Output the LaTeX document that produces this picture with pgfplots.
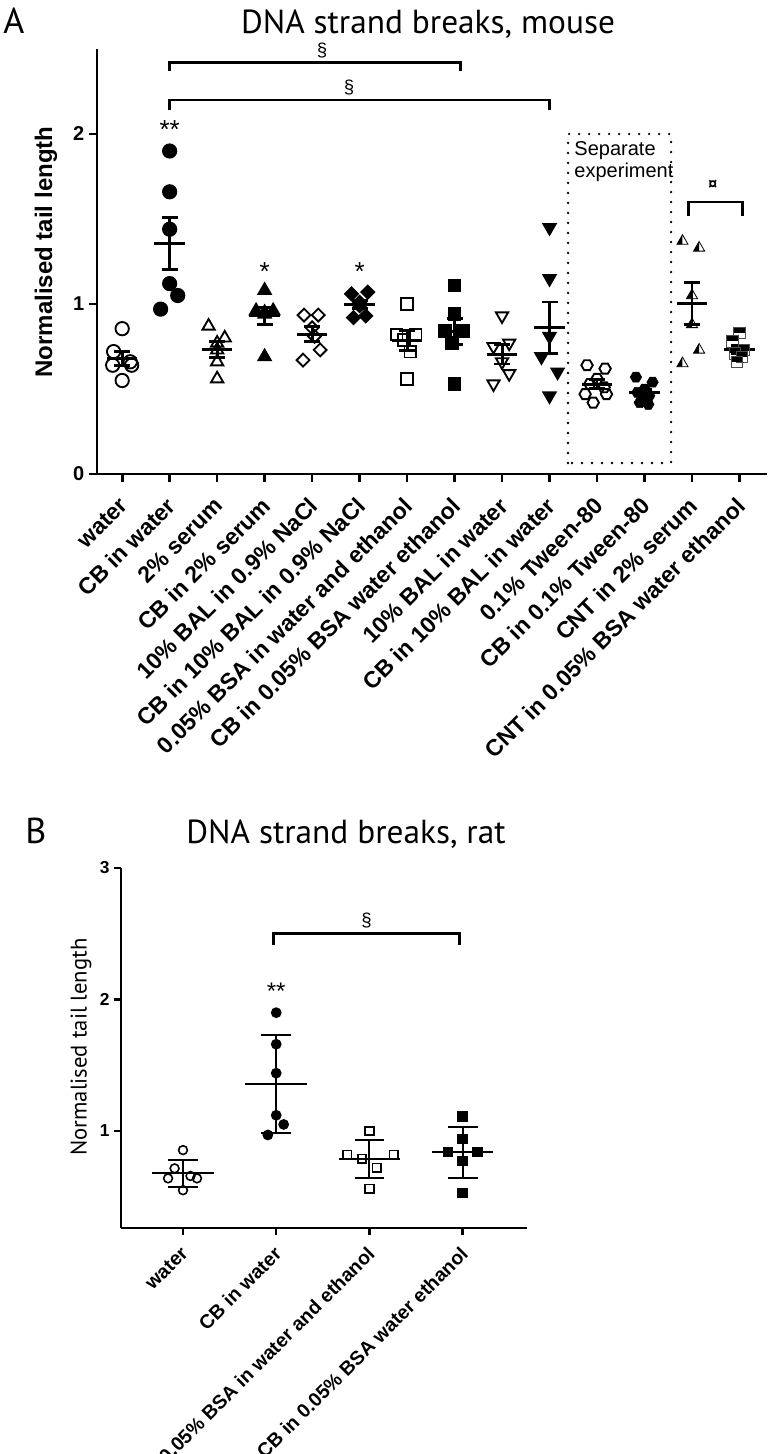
\documentclass[border=0pt]{standalone}
\usepackage{pgfplots}
\pgfplotsset{compat=1.18}
\usepackage{fontspec}
\setmainfont{Liberation Sans}
\newfontfamily\pts{PT Sans}

\pgfdeclareplotmark{hexo}{%
  \pgfpathmoveto{\pgfqpointpolar{0}{\pgfplotmarksize}}%
  \pgfpathlineto{\pgfqpointpolar{60}{\pgfplotmarksize}}%
  \pgfpathlineto{\pgfqpointpolar{120}{\pgfplotmarksize}}%
  \pgfpathlineto{\pgfqpointpolar{180}{\pgfplotmarksize}}%
  \pgfpathlineto{\pgfqpointpolar{240}{\pgfplotmarksize}}%
  \pgfpathlineto{\pgfqpointpolar{300}{\pgfplotmarksize}}%
  \pgfpathclose\pgfusepathqstroke}
\pgfdeclareplotmark{hexf}{%
  \pgfpathmoveto{\pgfqpointpolar{0}{\pgfplotmarksize}}%
  \pgfpathlineto{\pgfqpointpolar{60}{\pgfplotmarksize}}%
  \pgfpathlineto{\pgfqpointpolar{120}{\pgfplotmarksize}}%
  \pgfpathlineto{\pgfqpointpolar{180}{\pgfplotmarksize}}%
  \pgfpathlineto{\pgfqpointpolar{240}{\pgfplotmarksize}}%
  \pgfpathlineto{\pgfqpointpolar{300}{\pgfplotmarksize}}%
  \pgfpathclose\pgfusepathqfillstroke}
\pgfdeclareplotmark{halftri}{%
  \pgfpathmoveto{\pgfqpointpolar{90}{\pgfplotmarksize}}%
  \pgfpathlineto{\pgfqpointpolar{210}{\pgfplotmarksize}}%
  \pgfpathlineto{\pgfqpoint{0pt}{-0.5\pgfplotmarksize}}%
  \pgfpathclose\pgfusepathqfill
  \pgfpathmoveto{\pgfqpointpolar{90}{\pgfplotmarksize}}%
  \pgfpathlineto{\pgfqpointpolar{210}{\pgfplotmarksize}}%
  \pgfpathlineto{\pgfqpointpolar{330}{\pgfplotmarksize}}%
  \pgfpathclose\pgfusepathqstroke}
\pgfdeclareplotmark{halfsq}{%
  \pgfpathrectangle{\pgfqpoint{-\pgfplotmarksize}{0pt}}{\pgfqpoint{2\pgfplotmarksize}{\pgfplotmarksize}}%
  \pgfusepathqfill
  \pgfpathrectangle{\pgfqpoint{-\pgfplotmarksize}{-\pgfplotmarksize}}{\pgfqpoint{2\pgfplotmarksize}{2\pgfplotmarksize}}%
  \pgfusepathqstroke}

\pgfplotsset{
  pts/.style={only marks, black, mark options={line width=1.4pt, black}},
  seg/.style={black, line width=#1, unbounded coords=jump, forget plot, mark=none, line cap=butt},
}

\begin{document}
\begin{tikzpicture}
\path[use as bounding box] (0,0) rectangle (576pt,-1090.5pt);

% ---------------- Panel A ----------------
\node[anchor=base west, inner sep=0, font=\pts\fontsize{27}{27}\selectfont] at (2.25pt,-24.75pt) {A};
\node[anchor=base, inner sep=0, font=\pts\fontsize{25}{25}\selectfont] at (321pt,-24.75pt) {DNA strand breaks, mouse};
\node[rotate=90, inner sep=0, font=\bfseries\fontsize{18}{18}\selectfont] at (34.5pt,-189pt) {Normalised tail length};

\begin{axis}[
  at={(72.75pt,-355.5pt)}, anchor=south west,
  scale only axis, width=502.5pt, height=318.75pt,
  xmin=-0.53, xmax=13.58, ymin=0, ymax=2.5,
  axis lines=left, axis line style={-, line width=2.2pt},
  clip=false,
  xtick={0,...,13}, ytick={0,1,2},
  xticklabels={water, CB in water, 2\% serum, CB in 2\% serum,
    10\% BAL in 0.9\% NaCl, CB in 10\% BAL in 0.9\% NaCl,
    0.05\% BSA in water and ethanol, CB in 0.05\% BSA water ethanol,
    10\% BAL in water, CB in 10\% BAL in water, 0.1\% Tween-80,
    CB in 0.1\% Tween-80, CNT in 2\% serum, CNT in 0.05\% BSA water ethanol},
  tick align=outside, major tick length=6pt,
  tick style={line width=2pt, black},
  /pgf/number format/assume math mode=true,
  yticklabel style={font=\bfseries\fontsize{15}{15}\selectfont},
  xticklabel style={xshift=2pt, yshift=-14pt, rotate=45, anchor=east, inner sep=1pt,
    font=\bfseries\fontsize{17.3}{17.3}\selectfont},
]
% water
\addplot[pts, mark=o, mark size=5pt] coordinates {(0,0.855) (-0.18,0.72) (0.17,0.66) (-0.2,0.64) (0.2,0.64) (0,0.55)};
% CB in water
\addplot[pts, mark=*, mark size=5pt] coordinates {(1,1.90) (1,1.66) (1,1.44) (1,1.12) (1.17,1.05) (0.81,0.97)};
% 2% serum
\addplot[pts, mark=triangle, mark size=5.3pt] coordinates {(1.82,0.87) (2.16,0.80) (2,0.77) (2,0.73) (2,0.66) (2,0.56)};
% CB in 2% serum
\addplot[pts, mark=triangle*, mark size=5.3pt] coordinates {(3,1.08) (2.82,0.96) (3.18,0.96) (3,0.95) (3,0.94) (3,0.69)};
% 10% BAL in NaCl
\addplot[pts, mark=square, mark size=3.4pt, mark options={rotate=45, line width=1.4pt}] coordinates {(3.83,0.935) (4.13,0.935) (4,0.86) (4.05,0.81) (4.17,0.73) (3.81,0.67)};
% CB in 10% BAL in NaCl
\addplot[pts, mark=square*, mark size=3.4pt, mark options={rotate=45, line width=1.4pt}] coordinates {(5.17,1.07) (4.83,1.06) (5,1.01) (5,0.99) (5.13,0.93) (4.87,0.92)};
% 0.05% BSA
\addplot[pts, mark=square, mark size=4.4pt] coordinates {(6,1.0) (5.78,0.82) (6.18,0.82) (5.93,0.79) (6.07,0.72) (6,0.56)};
% CB in BSA
\addplot[pts, mark=square*, mark size=4.4pt] coordinates {(7,1.11) (7,0.94) (6.8,0.84) (7.18,0.84) (6.95,0.77) (7,0.53)};
% 10% BAL in water
\addplot[pts, mark=triangle, mark size=5.3pt, mark options={rotate=180, line width=1.4pt}] coordinates {(8,0.93) (8.15,0.77) (7.82,0.75) (8,0.66) (8.15,0.59) (7.82,0.53)};
% CB in 10% BAL in water
\addplot[pts, mark=triangle*, mark size=5.3pt, mark options={rotate=180, line width=1.4pt}] coordinates {(9,1.45) (9,1.15) (9,0.81) (8.83,0.69) (9.17,0.60) (9,0.46)};
% 0.1% Tween
\addplot[pts, mark=hexo, mark size=4.3pt] coordinates {(9.79,0.64) (10.17,0.62) (10,0.56) (9.85,0.53) (10.15,0.51) (9.75,0.47) (10.2,0.47) (9.92,0.42)};
% CB in Tween
\addplot[pts, mark=hexf, mark size=4.3pt, mark options={fill=black}] coordinates {(10.82,0.57) (11.17,0.54) (11,0.50) (10.85,0.48) (11.1,0.46) (11,0.44) (10.9,0.42) (11.08,0.41)};
% CNT in 2% serum
\addplot[pts, mark=halftri, mark size=4.8pt, mark options={fill=black, draw=black, line width=0.6pt}] coordinates {(11.8,1.37) (12.15,1.33) (12,1.05) (12,0.88) (12.15,0.73) (11.8,0.65)};
% CNT in BSA
\addplot[pts, mark=halfsq, mark size=4.2pt, mark options={fill=black, draw=black!70, line width=0.6pt}] coordinates {(13,0.83) (12.85,0.78) (13.1,0.73) (12.9,0.71) (13.05,0.69) (12.95,0.66)};

% means
\addplot[seg=2.2pt] coordinates {
 (-0.32,0.678) (0.32,0.678) (nan,nan) (0.68,1.357) (1.32,1.357) (nan,nan)
 (1.68,0.732) (2.32,0.732) (nan,nan) (2.68,0.93) (3.32,0.93) (nan,nan)
 (3.68,0.823) (4.32,0.823) (nan,nan) (4.68,0.997) (5.32,0.997) (nan,nan)
 (5.68,0.785) (6.32,0.785) (nan,nan) (6.68,0.838) (7.32,0.838) (nan,nan)
 (7.68,0.705) (8.32,0.705) (nan,nan) (8.68,0.86) (9.32,0.86) (nan,nan)
 (9.68,0.5275) (10.32,0.5275) (nan,nan) (10.68,0.4775) (11.32,0.4775) (nan,nan)
 (11.68,1.0017) (12.32,1.0017) (nan,nan) (12.68,0.733) (13.32,0.733)};
% SEM bars
\addplot[seg=2.2pt] coordinates {
 (0,0.636) (0,0.720) (nan,nan) (1,1.204) (1,1.510) (nan,nan)
 (2,0.687) (2,0.777) (nan,nan) (3,0.878) (3,0.982) (nan,nan)
 (4,0.779) (4,0.867) (nan,nan) (5,0.971) (5,1.023) (nan,nan)
 (6,0.726) (6,0.844) (nan,nan) (7,0.760) (7,0.916) (nan,nan)
 (8,0.647) (8,0.763) (nan,nan) (9,0.708) (9,1.012) (nan,nan)
 (10,0.5005) (10,0.5545) (nan,nan) (11,0.4575) (11,0.4975) (nan,nan)
 (12,0.8777) (12,1.1257) (nan,nan) (13,0.708) (13,0.758)};
% SEM caps
\addplot[seg=2.2pt] coordinates {
 (-0.168,0.636) (0.168,0.636) (nan,nan) (-0.168,0.720) (0.168,0.720) (nan,nan)
 (0.832,1.204) (1.168,1.204) (nan,nan) (0.832,1.510) (1.168,1.510) (nan,nan)
 (1.832,0.687) (2.168,0.687) (nan,nan) (1.832,0.777) (2.168,0.777) (nan,nan)
 (2.832,0.878) (3.168,0.878) (nan,nan) (2.832,0.982) (3.168,0.982) (nan,nan)
 (3.832,0.779) (4.168,0.779) (nan,nan) (3.832,0.867) (4.168,0.867) (nan,nan)
 (4.832,0.971) (5.168,0.971) (nan,nan) (4.832,1.023) (5.168,1.023) (nan,nan)
 (5.832,0.726) (6.168,0.726) (nan,nan) (5.832,0.844) (6.168,0.844) (nan,nan)
 (6.832,0.760) (7.168,0.760) (nan,nan) (6.832,0.916) (7.168,0.916) (nan,nan)
 (7.832,0.647) (8.168,0.647) (nan,nan) (7.832,0.763) (8.168,0.763) (nan,nan)
 (8.832,0.708) (9.168,0.708) (nan,nan) (8.832,1.012) (9.168,1.012) (nan,nan)
 (9.832,0.5005) (10.168,0.5005) (nan,nan) (9.832,0.5545) (10.168,0.5545) (nan,nan)
 (10.832,0.4575) (11.168,0.4575) (nan,nan) (10.832,0.4975) (11.168,0.4975) (nan,nan)
 (11.832,0.8777) (12.168,0.8777) (nan,nan) (11.832,1.1257) (12.168,1.1257) (nan,nan)
 (12.832,0.708) (13.168,0.708) (nan,nan) (12.832,0.758) (13.168,0.758)};

% annotations
\draw[line width=2.2pt] (0.99,2.37) -- (0.99,2.42) -- (7.12,2.42) -- (7.12,2.37);
\draw[line width=2.2pt] (0.99,2.14) -- (0.99,2.20) -- (8.99,2.20) -- (8.99,2.14);
\node[anchor=north, inner sep=0, font=\fontsize{14}{14}\selectfont] at (4.21,2.54) {§};
\node[anchor=north, inner sep=0, font=\fontsize{14}{14}\selectfont] at (4.78,2.318) {§};
\node[anchor=north, inner sep=0, font=\fontsize{19.5}{19.5}\selectfont] at (1,2.08) {**};
\node[anchor=north, inner sep=0, font=\fontsize{19.5}{19.5}\selectfont] at (3,1.247) {*};
\node[anchor=north, inner sep=0, font=\fontsize{19.5}{19.5}\selectfont] at (5,1.247) {*};
\draw[line width=2pt, line cap=round, dash pattern=on 0pt off 7.5pt] (9.39,0.065) rectangle (11.56,2.0);
\node[anchor=north west, inner sep=0, align=left, font=\fontsize{15}{16}\selectfont] at (9.52,1.955) {Separate\\experiment};
\draw[line width=2.2pt] (11.92,1.52) -- (11.92,1.60) -- (13.07,1.60) -- (13.07,1.52);
\node[inner sep=0, font=\bfseries\fontsize{12}{12}\selectfont] at (12.44,1.70) {¤};
\end{axis}

% ---------------- Panel B ----------------
\node[anchor=base west, inner sep=0, font=\pts\fontsize{27}{27}\selectfont] at (18.75pt,-632.25pt) {B};
\node[anchor=base, inner sep=0, font=\pts\fontsize{25}{25}\selectfont] at (259.5pt,-632.25pt) {DNA strand breaks, rat};
\node[rotate=90, inner sep=0, font=\pts\fontsize{17}{17}\selectfont] at (60.75pt,-785.25pt) {Normalised tail length};

\begin{axis}[
  at={(90.75pt,-921pt)}, anchor=south west,
  scale only axis, width=304.5pt, height=270pt,
  xmin=-0.665, xmax=3.69, ymin=0.2624, ymax=3,
  axis lines=left, axis line style={-, line width=2pt},
  clip=false,
  xtick={0,1,2,3}, ytick={1,2,3},
  xticklabels={water, CB in water, 0.05\% BSA in water and ethanol, CB in 0.05\% BSA water ethanol},
  tick align=outside, major tick length=5pt,
  tick style={line width=1.8pt, black},
  /pgf/number format/assume math mode=true,
  yticklabel style={font=\bfseries\fontsize{13}{13}\selectfont},
  xticklabel style={xshift=2pt, yshift=-11pt, rotate=45, anchor=east, inner sep=1pt,
    font=\bfseries\fontsize{14.6}{14.6}\selectfont},
]
\addplot[pts, mark=o, mark size=3.3pt, mark options={line width=1.2pt}] coordinates {(0,0.855) (-0.09,0.716) (0.08,0.658) (-0.16,0.64) (0.15,0.64) (0,0.55)};
\addplot[pts, mark=*, mark size=3.3pt] coordinates {(1,1.90) (1,1.66) (1,1.44) (1,1.12) (1.08,1.05) (0.91,0.97)};
\addplot[pts, mark=square, mark size=3.2pt, mark options={line width=1.2pt}] coordinates {(2,1.0) (1.76,0.82) (2.26,0.82) (1.92,0.79) (2.08,0.72) (2,0.56)};
\addplot[pts, mark=square*, mark size=3.2pt] coordinates {(3,1.11) (3,0.94) (2.84,0.84) (3.16,0.84) (3,0.77) (3,0.53)};

% means
\addplot[seg=1.5pt] coordinates {
 (-0.33,0.678) (0.33,0.678) (nan,nan) (0.67,1.357) (1.33,1.357) (nan,nan)
 (1.67,0.785) (2.33,0.785) (nan,nan) (2.67,0.838) (3.33,0.838)};
% SD bars
\addplot[seg=1.5pt] coordinates {
 (0,0.575) (0,0.781) (nan,nan) (1,0.982) (1,1.732) (nan,nan)
 (2,0.641) (2,0.929) (nan,nan) (3,0.646) (3,1.030)};
% SD caps
\addplot[seg=1.5pt] coordinates {
 (-0.16,0.575) (0.16,0.575) (nan,nan) (-0.16,0.781) (0.16,0.781) (nan,nan)
 (0.84,0.982) (1.16,0.982) (nan,nan) (0.84,1.732) (1.16,1.732) (nan,nan)
 (1.84,0.641) (2.16,0.641) (nan,nan) (1.84,0.929) (2.16,0.929) (nan,nan)
 (2.84,0.646) (3.16,0.646) (nan,nan) (2.84,1.030) (3.16,1.030)};

\draw[line width=2.2pt] (0.97,2.414) -- (0.97,2.503) -- (2.97,2.503) -- (2.97,2.414);
\node[anchor=north, inner sep=0, font=\fontsize{14}{14}\selectfont] at (1.97,2.66) {§};
\node[anchor=north, inner sep=0, font=\fontsize{18}{18}\selectfont] at (1,2.128) {**};
\end{axis}
\end{tikzpicture}
\end{document}
